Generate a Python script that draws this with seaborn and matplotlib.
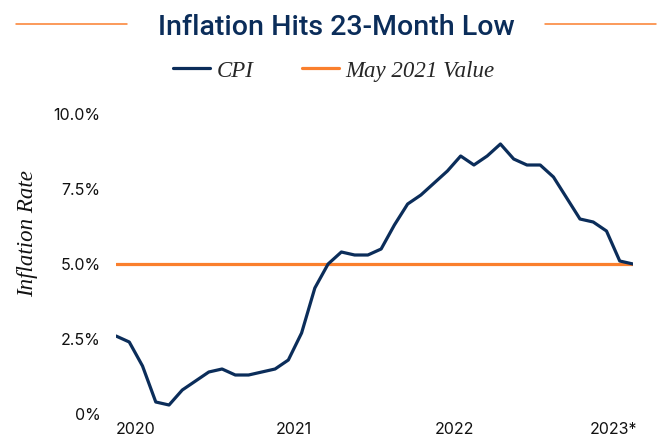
import numpy as np
import pandas as pd
import matplotlib.pyplot as plt
from matplotlib.lines import Line2D
from matplotlib.ticker import FuncFormatter
import seaborn as sns

sns.set_theme(style="white")
plt.rcParams["font.family"] = ["Inter", "DejaVu Sans"]

# monthly CPI, Jan 2020 .. Apr 2023
cpi = [2.6, 2.4, 1.6, 0.4, 0.3, 0.8, 1.1, 1.4, 1.5, 1.3,
       1.3, 1.4, 1.5, 1.8, 2.7, 4.2, 5.0, 5.4, 5.3, 5.3,
       5.5, 6.3, 7.0, 7.3, 7.7, 8.1, 8.6, 8.3, 8.6, 9.0,
       8.5, 8.3, 8.3, 7.9, 7.2, 6.5, 6.4, 6.1, 5.1, 5.0]
may_2021_value = 5.0
year_labels = ["2020", "2021", "2022", "2023*"]
year_pos = [1.5, 13.4, 25.5, 37.5]
y_ticks = [0, 2.5, 5.0, 7.5, 10.0]

navy = "#0b2d5a"
orange = "#fa7f2d"

df = pd.DataFrame({"month": np.arange(len(cpi)), "cpi": cpi})

fig = plt.figure(figsize=(6.58, 4.36), dpi=100)
ax = fig.add_axes([116 / 658, 22 / 436, 517 / 658, 300 / 436])

sns.lineplot(data=df, x="month", y="cpi", ax=ax, color=navy,
             linewidth=2.3, label="CPI")
ax.axhline(may_2021_value, color=orange, linewidth=2.3,
           label="May 2021 Value", zorder=1)

ax.set_xlim(0, len(cpi) - 1)
ax.set_ylim(0, 10)
ax.set_xticks(year_pos)
ax.set_xticklabels(year_labels)
ax.set_yticks(y_ticks)
ax.yaxis.set_major_formatter(FuncFormatter(lambda v, p: "0%" if v == 0 else f"{v:.1f}%"))
ax.tick_params(axis="both", length=0, labelsize=11.5, colors="#111111")
ax.tick_params(axis="x", pad=6)
ax.tick_params(axis="y", pad=11)
for s in ax.spines.values():
    s.set_visible(False)

ax.set_xlabel("")
ax.set_ylabel("Inflation Rate", family=["Liberation Serif"], style="italic",
              fontsize=16.5, color="#111111")
ax.yaxis.set_label_coords(-0.15, 0.6)

ax.legend(loc="center", bbox_to_anchor=(334 / 658, 1 - 71 / 436),
          bbox_transform=fig.transFigure, ncol=2, frameon=False,
          handlelength=1.6, columnspacing=2.1, handletextpad=0.3,
          prop={"family": "Liberation Serif", "style": "italic", "size": 16.5})

fig.text(336 / 658, 1 - 35 / 436, "Inflation Hits 23-Month Low",
         ha="center", va="baseline", fontsize=20.5, fontweight="medium",
         color=navy, family=["Roboto", "DejaVu Sans"])
fig.add_artist(Line2D([16 / 658, 127 / 658], [1 - 24 / 436] * 2,
                      color=orange, linewidth=1.1, transform=fig.transFigure))
fig.add_artist(Line2D([545 / 658, 656 / 658], [1 - 24 / 436] * 2,
                      color=orange, linewidth=1.1, transform=fig.transFigure))

fig.savefig("out.png", dpi=100)
